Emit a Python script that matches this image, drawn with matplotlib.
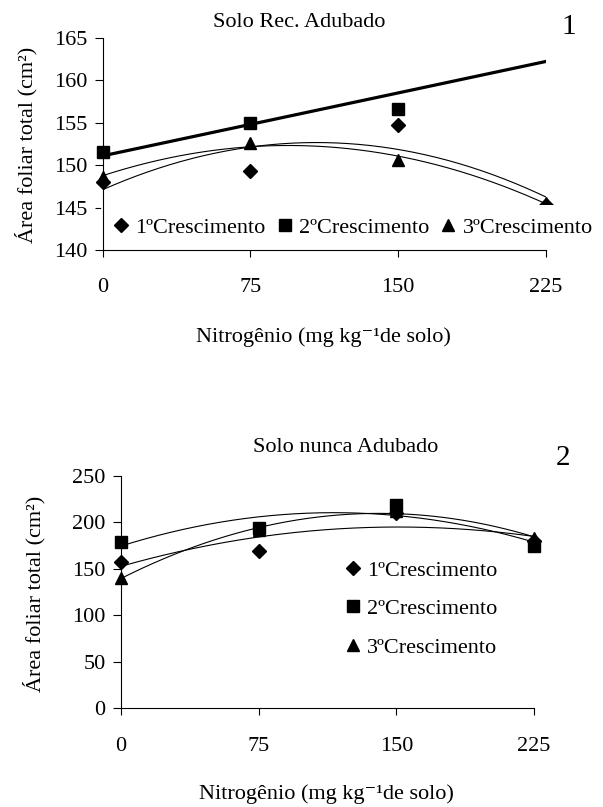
import numpy as np
import matplotlib
matplotlib.use("Agg")
import matplotlib.pyplot as plt

plt.rcParams['font.family'] = ['Liberation Serif', 'DejaVu Serif']
plt.rcParams['mathtext.default'] = 'regular'

## dados ##############
doses = [0, 75, 150, 225]
series_names = ['1ºCrescimento', '2ºCrescimento', '3ºCrescimento']

# grafico 1 - solo rec. adubado
rec_c1 = [148.05, 149.3, 154.7, 145.3]
rec_c2 = [151.6, 155.0, 156.6, np.nan]
rec_c3 = [148.6, 152.65, 150.6, 145.6]
rec_lin = [0.0495, 151.1]   # reta do 2º crescimento (inclinacao, intercepto)

# grafico 2 - solo nunca adubado
nun_c1 = [157.8, 169.5, 210.0, 180.0]
nun_c2 = [178.5, 194.5, 219.0, 175.0]
nun_c3 = [140.6, 192.0, 212.0, 183.7]

FS = 16
xs = np.linspace(0, 225, 200)
xlabel_txt = 'Nitrogênio (mg kg\u207b\u00b9de solo)'
ylabel_txt = 'Área foliar total (cm²)'

fig = plt.figure(figsize=(6.03, 8.07), dpi=100)


def style_axes(ax, ylim, yticks):
    ax.set_xlim(0, 225)
    ax.set_ylim(*ylim)
    ax.set_xticks(doses)
    ax.set_yticks(yticks)
    for s in ['top', 'right']:
        ax.spines[s].set_visible(False)
    for s in ['left', 'bottom']:
        ax.spines[s].set_linewidth(0.8)
    ax.tick_params(axis='y', direction='out', length=6, width=0.8, pad=5, labelsize=FS)
    ax.tick_params(axis='x', direction='out', length=5, width=0.8, pad=15.5, labelsize=FS)


## ordem de desenho: linhas < pontos < legenda < eixos
def draw_points(ax, c1, c2, c3):
    h1, = ax.plot(doses, c1, 'D', color='black', ms=7, clip_on=False, zorder=2.2)
    h3, = ax.plot(doses, c3, '^', color='black', ms=9, clip_on=False, zorder=2.2)
    h2, = ax.plot(doses, c2, 's', color='black', ms=8, clip_on=False, zorder=2.3)
    return [h1, h2, h3]


def trend(ax, y, deg=2):
    x = np.array(doses, dtype=float)
    y = np.array(y, dtype=float)
    ok = ~np.isnan(y)
    coef = np.polyfit(x[ok], y[ok], deg)
    ax.plot(xs, np.polyval(coef, xs), color='black', lw=0.8, zorder=2)


### grafico 1 ###
ax1 = fig.add_axes([0.170, 0.6902, 0.7355, 0.2627])
style_axes(ax1, (140, 165), [140, 145, 150, 155, 160, 165])
ax1.plot(xs, np.polyval(rec_lin, xs), color='black', lw=2.3, zorder=2)
trend(ax1, rec_c1)
trend(ax1, rec_c3)
hs = draw_points(ax1, rec_c1, rec_c2, rec_c3)
leg1 = ax1.legend(hs, series_names, loc='center left', bbox_to_anchor=(0.149, 0.7175),
                  bbox_transform=fig.transFigure, ncol=3, fontsize=FS, frameon=True,
                  facecolor='white', edgecolor='none', framealpha=1, numpoints=1,
                  handlelength=0.7, handletextpad=0.3, columnspacing=0.5, borderpad=0.55)
leg1.set_zorder(2.4)

fig.text(0.4967, 0.9727, 'Solo Rec. Adubado', ha='center', va='center', fontsize=FS)
fig.text(0.9436, 0.9665, '1', ha='center', va='center', fontsize=21)
fig.text(0.043, 0.8203, ylabel_txt, rotation=90, ha='center', va='center', fontsize=FS)
fig.text(0.537, 1 - 337 / 807, xlabel_txt, ha='center', va='center', fontsize=FS)

### grafico 2 ###
ax2 = fig.add_axes([0.2007, 0.1221, 0.6849, 0.2881])
style_axes(ax2, (0, 250), [0, 50, 100, 150, 200, 250])
trend(ax2, nun_c1)
trend(ax2, nun_c2)
trend(ax2, nun_c3)
hs = draw_points(ax2, nun_c1, nun_c2, nun_c3)
leg2 = ax2.legend(hs, series_names, loc='center left', bbox_to_anchor=(0.539, 0.2454),
                  bbox_transform=fig.transFigure, ncol=1, fontsize=FS, frameon=False,
                  numpoints=1, handlelength=0.7, handletextpad=0.3, labelspacing=0.8,
                  borderpad=0.4)

fig.text(0.5731, 0.4449, 'Solo nunca Adubado', ha='center', va='center', fontsize=FS)
fig.text(0.9337, 0.4325, '2', ha='center', va='center', fontsize=21)
fig.text(0.0564, 0.2646, ylabel_txt, rotation=90, ha='center', va='center', fontsize=FS)
fig.text(0.5406, 0.0165, xlabel_txt, ha='center', va='center', fontsize=FS)

fig.savefig('out.png', dpi=100, facecolor='white')
